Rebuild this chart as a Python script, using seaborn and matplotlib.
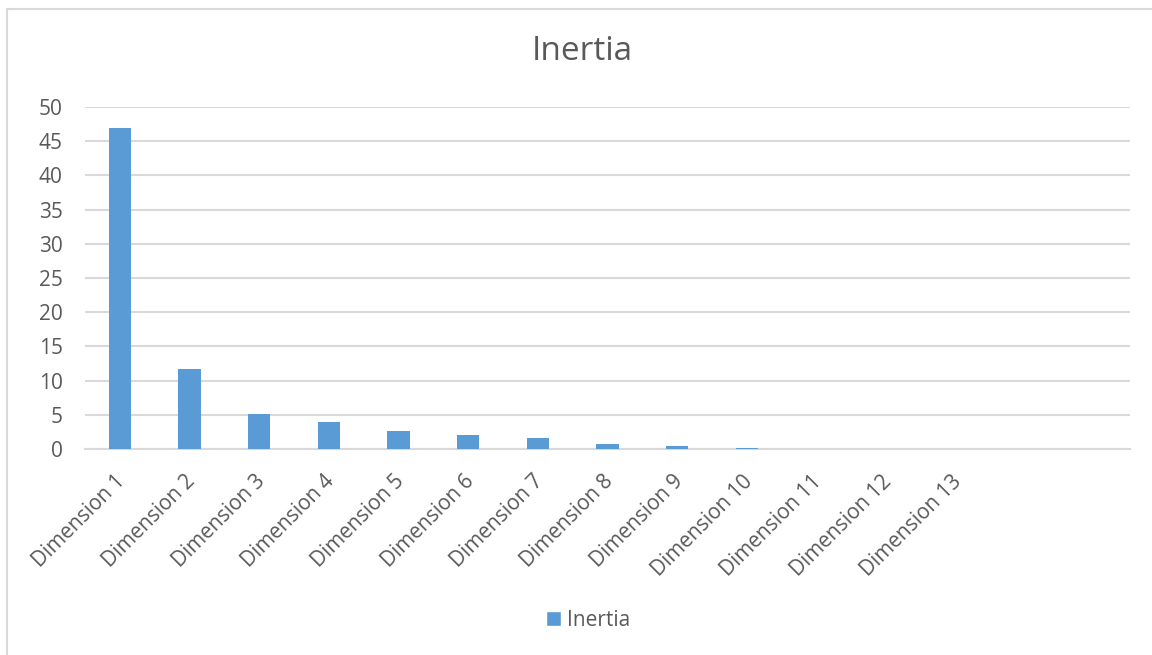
import numpy as np
import pandas as pd
import seaborn as sns
import matplotlib.pyplot as plt
import matplotlib.transforms as mtransforms
from matplotlib.patches import Rectangle, Patch

# values
dimensions = ['Dimension %d' % i for i in range(1, 14)]
inertia = [46.9, 11.7, 5.1, 4.0, 2.6, 2.0, 1.6, 0.75, 0.45, 0.2, 0.0, 0.0, 0.0]

df = pd.DataFrame({'Dimension': dimensions, 'Inertia': inertia})

sns.set_style('white')
plt.rcParams['font.family'] = ['Open Sans', 'DejaVu Sans']
grey_text = '#595959'
grid_col = '#d9d9d9'
bar_col = '#5b9bd5'

fig = plt.figure(figsize=(11.52, 6.55), dpi=100)
ax = fig.add_axes([85 / 1152, 1 - 449 / 655, 1045 / 1152, 342 / 655])

sns.barplot(data=df, x='Dimension', y='Inertia', color=bar_col, width=0.32,
            saturation=1, linewidth=0, ax=ax, zorder=3)

# the category axis has room for 15 slots
ax.set_xlim(-0.5, 14.5)
ax.set_ylim(0, 50)
ax.set_yticks(range(0, 51, 5))
ax.yaxis.grid(True, color=grid_col, linewidth=1.5, zorder=0)
ax.set_xlabel('')
ax.set_ylabel('')
for s in ['top', 'right', 'left']:
    ax.spines[s].set_visible(False)
ax.spines['bottom'].set_color(grid_col)
ax.spines['bottom'].set_linewidth(1.5)
ax.tick_params(axis='both', length=0, colors=grey_text, labelsize=15)
ax.tick_params(axis='y', pad=16)

offset = mtransforms.ScaledTranslation(-0.05, -0.17, fig.dpi_scale_trans)
for lab in ax.get_xticklabels():
    lab.set_rotation(45)
    lab.set_ha('right')
    lab.set_rotation_mode('anchor')
    lab.set_transform(lab.get_transform() + offset)

fig.text(582 / 1152, 1 - 52 / 655, 'Inertia', ha='center', va='center',
         fontsize=24, color=grey_text)

fig.legend(handles=[Patch(facecolor=bar_col, label='Inertia')],
           loc='center', bbox_to_anchor=(588 / 1152, 1 - 620 / 655),
           frameon=False, fontsize=15, labelcolor=grey_text,
           handlelength=0.7, handleheight=0.7, handletextpad=0.3)

fig.patches.append(Rectangle((7 / 1152, -0.1), 1.2, 1 - 9 / 655 + 0.1,
                             transform=fig.transFigure, fill=False,
                             edgecolor=grid_col, linewidth=1.5))

fig.savefig('out.png', dpi=100)
